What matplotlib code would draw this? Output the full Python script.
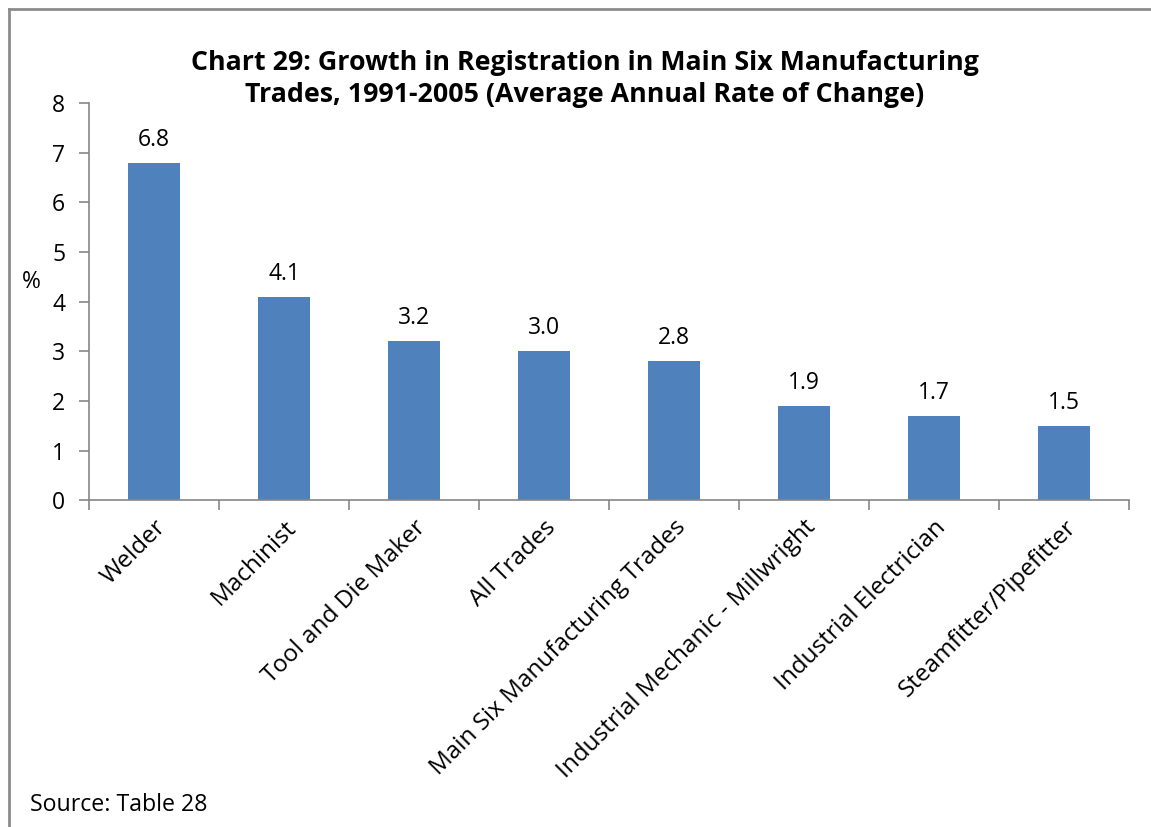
import matplotlib
matplotlib.use("Agg")
import matplotlib.pyplot as plt
from matplotlib.lines import Line2D
import numpy as np

trades = ["Welder", "Machinist", "Tool and Die Maker", "All Trades",
          "Main Six Manufacturing Trades", "Industrial Mechanic - Millwright",
          "Industrial Electrician", "Steamfitter/Pipefitter"]
growth = [6.8, 4.1, 3.2, 3.0, 2.8, 1.9, 1.7, 1.5]

plt.rcParams['font.family'] = ['Open Sans', 'DejaVu Sans']

fig = plt.figure(figsize=(11.51, 8.27), dpi=100)
ax = fig.add_axes([0.0773, 0.395, 0.9037, 0.4805])

bar_color = "#4F81BD"
axis_gray = "#868686"

x = np.arange(len(trades))
ax.bar(x, growth, width=0.4, color=bar_color)

for xi, v in zip(x, growth):
    ax.text(xi, v + 0.22, f"{v:.1f}", ha="center", va="bottom", fontsize=16.5)

ax.set_xlim(-0.5, len(trades) - 0.5)
ax.set_ylim(0, 8)
ax.set_yticks(range(0, 9))
ax.tick_params(axis="y", labelsize=16.5, length=7, width=1.2, color=axis_gray, pad=10)

# category ticks sit between the bars
ax.set_xticks(np.arange(-0.5, len(trades)), minor=False)
ax.set_xticklabels([])
ax.tick_params(axis="x", length=7, width=1.2, color=axis_gray)
ax.set_xticks(x, minor=True)
ax.set_xticklabels(trades, minor=True, rotation=45, ha="right",
                   rotation_mode="anchor", fontsize=17.5)
ax.tick_params(axis="x", which="minor", length=0, pad=11)

for side in ["top", "right"]:
    ax.spines[side].set_visible(False)
for side in ["left", "bottom"]:
    ax.spines[side].set_color(axis_gray)
    ax.spines[side].set_linewidth(1.2)

fig.text(0.019, 0.659, "%", fontsize=16.5, ha="left", va="center")
fig.text(0.508, 0.905, "Chart 29: Growth in Registration in Main Six Manufacturing\n"
         "Trades, 1991-2005 (Average Annual Rate of Change)",
         ha="center", va="center", fontsize=19.3, fontweight="bold", linespacing=1.3)
fig.text(0.026, 0.026, "Source: Table 28", fontsize=16.7, ha="left", va="center")

# chart frame along the top and left edge
fig.add_artist(Line2D([0.008, 1.0], [0.989, 0.989], color="#8c8c8c", lw=2.0))
fig.add_artist(Line2D([0.008, 0.008], [0.0, 0.989], color="#8c8c8c", lw=2.0))

fig.savefig("out.png", dpi=100)
